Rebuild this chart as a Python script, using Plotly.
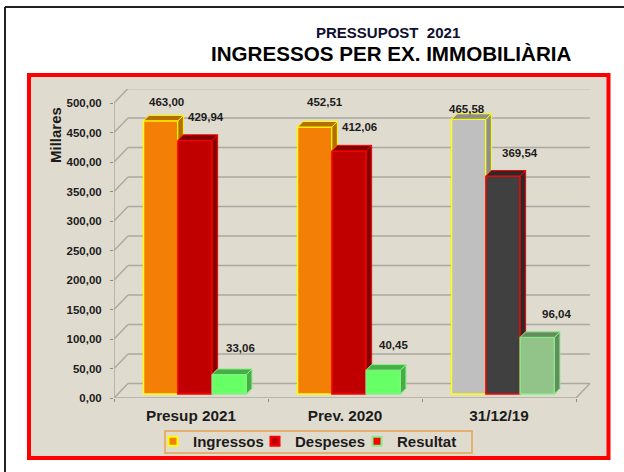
import plotly.graph_objects as go

# ---- data ----
categories = ["Presup 2021", "Prev. 2020", "31/12/19"]
ingressos = [463.00, 452.51, 465.58]
despeses = [429.94, 412.06, 369.54]
resultat = [33.06, 40.45, 96.04]
y_ticks = [0, 50, 100, 150, 200, 250, 300, 350, 400, 450, 500]
series_names = ["Ingressos", "Despeses", "Resultat"]

# ---- layout in pixels ----
W, H = 624, 472
PL, PR, PT, PB = 114, 592, 89, 398
PX_X = 154.0          # pixels per category
PX_Y = 0.59           # pixels per unit
X_RANGE = (PR - PL) / PX_X
Y_RANGE = (PB - PT) / PX_Y
WALL_DX, WALL_DY = 14 / PX_X, 14.5 / PX_Y
BASE = 4 / PX_Y
BAR_W = 34.3 / PX_X
DEPTH_X, DEPTH_Y = 5.5 / PX_X, 5.5 / PX_Y
GROUP_C = 0.526

def X(p): return (p - PL) / (PR - PL)
def Y(p): return (PB - p) / (PB - PT)

front = [["#F47F07", "#F47F07", "#BFBFBF"],
         ["#C00000", "#C00000", "#404040"],
         ["#66FF66", "#66FF66", "#92C48A"]]
shade = [["#B56C00", "#B56C00", "#8E8E8E"],
         ["#800000", "#800000", "#2A2A2A"],
         ["#46AE46", "#46AE46", "#648C5E"]]
edge = ["#FFFF00", "#FF0000", "#86F086"]
legend_fill = ["#F47F07", "#C00000", "#FF0000"]
label_shift = [[(6, 19), (10, 25), (-2, 10)],
               [(11, 23), (10, 24), (17, 23)],
               [(11, 26.5), (10.5, 25), (19.5, 23)]]

INK = "#1c1c1c"
GRID = "#ABA9A1"
FONT = "Liberation Sans"
series = [ingressos, despeses, resultat]

fig = go.Figure()
centers = [i + GROUP_C for i in range(len(categories))]

# front faces
for s, vals in enumerate(series):
    fig.add_trace(go.Bar(
        x=centers, y=vals, base=[BASE] * len(vals), name=series_names[s],
        width=BAR_W, offset=(s - 1.5) * BAR_W,
        marker=dict(color=front[s], line=dict(color=edge[s], width=1.5)),
        showlegend=False, hoverinfo="skip"))

# legend entries
for s, name in enumerate(series_names):
    fig.add_trace(go.Scatter(
        x=[None], y=[None], name=name, mode="markers",
        marker=dict(symbol="square", size=9, color=legend_fill[s],
                    line=dict(color=edge[s], width=2))))

# depth faces
for g, c in enumerate(centers):
    for s, vals in enumerate(series):
        left = c + (s - 1.5) * BAR_W
        right = left + BAR_W
        top = vals[g] + BASE
        low = (series[s + 1][g] + BASE) if s < len(series) - 1 else BASE
        fig.add_trace(go.Scatter(
            x=[right, right + DEPTH_X, right + DEPTH_X, right, right],
            y=[low, low + DEPTH_Y, top + DEPTH_Y, top, low],
            mode="lines", fill="toself", fillcolor=shade[s][g],
            line=dict(color=edge[s], width=1), showlegend=False, hoverinfo="skip"))
        fig.add_trace(go.Scatter(
            x=[left, left + DEPTH_X, right + DEPTH_X, right, left],
            y=[top, top + DEPTH_Y, top + DEPTH_Y, top, top],
            mode="lines", fill="toself", fillcolor=shade[s][g],
            line=dict(color=edge[s], width=1), showlegend=False, hoverinfo="skip"))

annotations = []
for s, vals in enumerate(series):
    for g, v in enumerate(vals):
        dx, dy = label_shift[s][g]
        annotations.append(dict(
            x=centers[g] + (s - 1) * BAR_W, y=v + BASE, xref="x", yref="y",
            text=f"{v:.2f}".replace(".", ","), showarrow=False,
            xanchor="center", yanchor="middle", xshift=dx, yshift=dy,
            font=dict(family=FONT, size=11.5, color=INK, weight="bold")))
annotations += [
    dict(x=X(388), y=Y(32), xref="paper", yref="paper", text="PRESSUPOST  2021",
         xanchor="center", yanchor="middle",
         showarrow=False, font=dict(family=FONT, size=15, color="#101030", weight="bold")),
    dict(x=X(391.5), y=Y(54), xref="paper", yref="paper",
         xanchor="center", yanchor="middle",
         text="INGRESSOS PER EX. IMMOBILIÀRIA", showarrow=False,
         font=dict(family=FONT, size=20.6, color="#000000", weight="bold")),
    dict(x=X(55), y=Y(135), xref="paper", yref="paper", text="Millares", textangle=-90,
         xanchor="center", yanchor="middle",
         showarrow=False, font=dict(family=FONT, size=15, color=INK, weight="bold")),
]

shapes = [
    dict(type="line", xref="paper", yref="paper", x0=X(5), x1=X(W + 2), y0=Y(7), y1=Y(7),
         line=dict(color="#222222", width=2), layer="below"),
    dict(type="line", xref="paper", yref="paper", x0=X(5), x1=X(5), y0=Y(7), y1=Y(H + 2),
         line=dict(color="#222222", width=2), layer="below"),
    dict(type="rect", xref="paper", yref="paper", x0=X(29), x1=X(608.5), y0=Y(75), y1=Y(458),
         fillcolor="#E0DBCF", line=dict(color="#FF0000", width=4), layer="below"),
    dict(type="rect", xref="paper", yref="paper", x0=X(165), x1=X(472), y0=Y(431), y1=Y(453),
         fillcolor="rgba(0,0,0,0)", line=dict(color="#E8A050", width=1.5), layer="below"),
]
n = len(categories)
for v in y_ticks:
    shapes.append(dict(type="line", xref="x", yref="y", x0=0, x1=WALL_DX, y0=v, y1=v + WALL_DY,
                       line=dict(color=GRID, width=1.5), layer="below"))
    shapes.append(dict(type="line", xref="x", yref="y", x0=WALL_DX, x1=n + WALL_DX,
                       y0=v + WALL_DY, y1=v + WALL_DY,
                       line=dict(color=GRID, width=1.5), layer="below"))
shapes += [
    dict(type="line", xref="x", yref="y", x0=0, x1=0, y0=0, y1=y_ticks[-1],
         line=dict(color=GRID, width=1.5), layer="below"),
    dict(type="line", xref="x", yref="y", x0=0, x1=n, y0=0, y1=0,
         line=dict(color=GRID, width=1.5), layer="below"),
    dict(type="line", xref="x", yref="y", x0=n, x1=n + WALL_DX, y0=0, y1=WALL_DY,
         line=dict(color=GRID, width=1.5), layer="below"),
]

fig.update_layout(
    width=W, height=H, margin=dict(l=PL, r=W - PR, t=PT, b=H - PB, pad=0, autoexpand=False),
    paper_bgcolor="#FFFFFF", plot_bgcolor="rgba(0,0,0,0)",
    barmode="overlay",
    annotations=annotations, shapes=shapes,
    xaxis=dict(range=[0, X_RANGE], showgrid=False, zeroline=False, showline=False,
               tickvals=[i + 0.5 for i in range(n)], ticktext=categories, ticks="",
               tickfont=dict(family=FONT, size=15.3, color=INK, weight="bold"),
               ticklabelstandoff=7,
               minor=dict(tickvals=list(range(n + 1)), ticks="outside", ticklen=3,
                          tickcolor="#8E8C85", tickwidth=1, showgrid=False)),
    yaxis=dict(range=[0, Y_RANGE], showgrid=False, zeroline=False, showline=False,
               tickvals=y_ticks, ticktext=[f"{v:.2f}".replace(".", ",") for v in y_ticks],
               ticks="outside", ticklen=3, tickcolor="#8E8C85", tickwidth=1,
               ticklabelstandoff=6,
               tickfont=dict(family=FONT, size=11.5, color=INK, weight="bold")),
    legend=dict(orientation="h", x=X(153), y=Y(425), xanchor="left", yanchor="top",
                bgcolor="rgba(0,0,0,0)", borderwidth=0,
                font=dict(family=FONT, size=15, color=INK, weight="bold"),
                itemwidth=30, entrywidth=57, entrywidthmode="pixels",
                traceorder="normal", itemclick=False, itemdoubleclick=False),
    hovermode=False,
)

fig.write_html("out.html", post_script="document.body.style.margin='0';",
               config=dict(displayModeBar=False))
